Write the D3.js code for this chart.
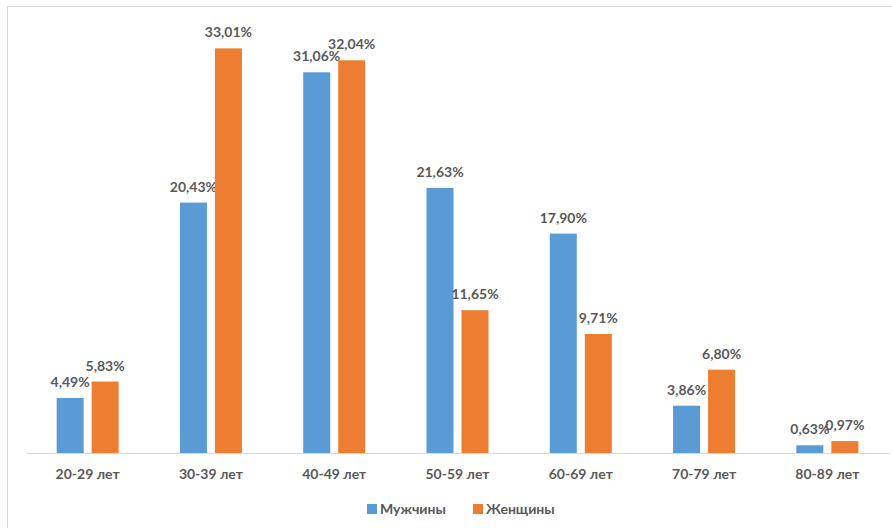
<!DOCTYPE html>
<html>
<head>
<meta charset="utf-8">
<script src="https://cdn.jsdelivr.net/npm/d3@7"></script>
<style>
  html, body { margin: 0; padding: 0; background: #fff; }
  svg { display: block; }
  text { font-family: Lato, "Open Sans", sans-serif; font-weight: 700; fill: #595959; }
</style>
</head>
<body>
<svg id="chart" width="892" height="528"></svg>
<script>
// Age groups and shares (%) by sex
const categories = ["20-29 лет", "30-39 лет", "40-49 лет", "50-59 лет", "60-69 лет", "70-79 лет", "80-89 лет"];
const men   = [4.49, 20.43, 31.06, 21.63, 17.90, 3.86, 0.63];
const women = [5.83, 33.01, 32.04, 11.65, 9.71, 6.80, 0.97];
const seriesNames = ["Мужчины", "Женщины"];
const seriesColors = ["#5B9BD5", "#ED7D31"];

const svg = d3.select("#chart");
const W = 892, H = 528;

// Outer chart frame
svg.append("rect")
  .attr("x", 7.5).attr("y", 6.5)
  .attr("width", W + 10).attr("height", H + 10)
  .attr("fill", "#fff").attr("stroke", "#d9d9d9").attr("stroke-width", 1);

const plot = { left: 26, right: 889, top: 24, bottom: 453 };

const x0 = d3.scaleBand().domain(categories).range([plot.left, plot.right]).padding(0);
const y = d3.scaleLinear().domain([0, 35]).range([plot.bottom, plot.top]);

const barW = 27, gap = 8;
const x1 = d3.scaleOrdinal().domain([0, 1]).range([-(gap / 2 + barW), gap / 2]);

const series = [men, women];
const fmt = v => d3.format(".2f")(v).replace(".", ",") + "%";

// Bars
series.forEach((vals, si) => {
  const g = svg.append("g");
  g.selectAll("rect").data(vals).join("rect")
    .attr("x", (d, i) => x0(categories[i]) + x0.bandwidth() / 2 + x1(si))
    .attr("y", d => y(d))
    .attr("width", barW)
    .attr("height", d => y(0) - y(d))
    .attr("fill", seriesColors[si]);
  g.selectAll("text").data(vals).join("text")
    .attr("x", (d, i) => x0(categories[i]) + x0.bandwidth() / 2 + x1(si) + barW / 2)
    .attr("y", d => y(d) - 11)
    .attr("text-anchor", "middle")
    .attr("font-size", 14)
    .text(fmt);
});

// Category axis
const axis = svg.append("g")
  .attr("transform", `translate(0,${plot.bottom})`)
  .call(d3.axisBottom(x0).tickSize(0).tickPadding(16));
axis.select(".domain").attr("stroke", "#d9d9d9").attr("stroke-width", 1.2);
axis.selectAll("text")
  .attr("font-size", 14)
  .attr("font-family", "Lato, sans-serif")
  .attr("font-weight", 700)
  .attr("fill", "#595959");

// Legend
const legend = svg.append("g").attr("transform", "translate(367,509)");
const legX = [0, 106];
seriesNames.forEach((name, i) => {
  const lg = legend.append("g").attr("transform", `translate(${legX[i]},0)`);
  lg.append("rect").attr("x", 0).attr("y", -5).attr("width", 10).attr("height", 10)
    .attr("fill", seriesColors[i]);
  lg.append("text").attr("x", 13).attr("y", 5).attr("font-size", 14).text(name);
});
</script>
</body>
</html>
